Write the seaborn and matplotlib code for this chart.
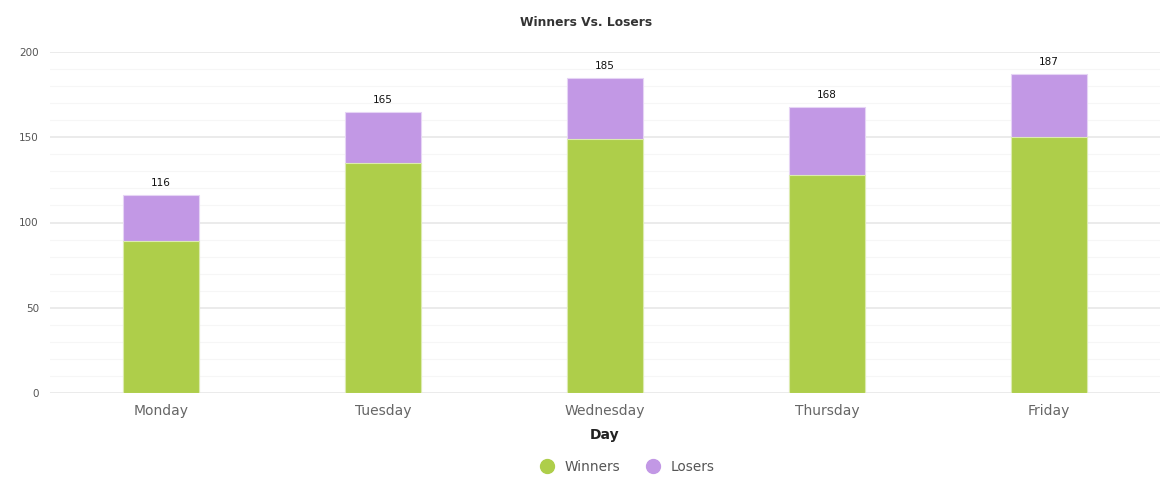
import matplotlib
matplotlib.use("Agg")
import matplotlib.pyplot as plt
import seaborn as sns
import pandas as pd
from matplotlib.lines import Line2D

days = ["Monday", "Tuesday", "Wednesday", "Thursday", "Friday"]
winners = [89, 135, 149, 128, 150]
losers = [27, 30, 36, 40, 37]
totals = [116, 165, 185, 168, 187]

df = pd.DataFrame({"Day": days, "Winners": winners, "Losers": losers, "Total": totals})

sns.set_theme(style="white")
plt.rcParams['font.family'] = ['DejaVu Sans']

green = "#AECE4A"
purple = "#C298E5"

fig = plt.figure(figsize=(11.74, 4.99), dpi=100)
ax = fig.add_axes([50/1174, 106/499, 1110/1174, 341/499])

sns.barplot(data=df, x="Day", y="Total", color=purple, saturation=1, width=0.34,
            edgecolor="#E6D4F5", linewidth=0.8, ax=ax)
sns.barplot(data=df, x="Day", y="Winners", color=green, saturation=1, width=0.34,
            edgecolor="#DCEBB0", linewidth=0.8, ax=ax)

ax.set_ylim(0, 200)
ax.set_xlim(-0.5, 4.5)
ax.set_yticks([0, 50, 100, 150, 200])
ax.set_yticks(range(0, 201, 10), minor=True)
ax.grid(axis="y", which="major", color="#E8E8E8", linewidth=1.2)
ax.grid(axis="y", which="minor", color="#F6F6F6", linewidth=0.8)
ax.set_axisbelow(True)
for s in ax.spines.values():
    s.set_visible(False)
ax.tick_params(axis="y", which="both", length=0, labelsize=7.5, labelcolor="#555555", pad=8)
ax.tick_params(axis="x", length=0, labelsize=10, labelcolor="#666666", pad=8)
ax.set_ylabel("")
ax.set_xlabel("Day", fontsize=10, fontweight="bold", color="#222222", labelpad=7)

for i, t in enumerate(totals):
    ax.text(i, t + 4, str(t), ha="center", va="bottom", fontsize=7.5, color="#111111")

fig.text(586/1174, 1 - 22/499, "Winners Vs. Losers", ha="center", va="center",
         fontsize=8.8, fontweight="bold", color="#333333")

handles = [Line2D([], [], marker="o", linestyle="", markersize=10, color=green),
           Line2D([], [], marker="o", linestyle="", markersize=10, color=purple)]
fig.legend(handles, ["Winners", "Losers"], loc="center", bbox_to_anchor=(624/1174, 1 - 467/499),
           ncol=2, frameon=False, fontsize=9.8, labelcolor="#555555",
           handletextpad=0.3, columnspacing=1.4)

fig.savefig("out.png", dpi=100)
